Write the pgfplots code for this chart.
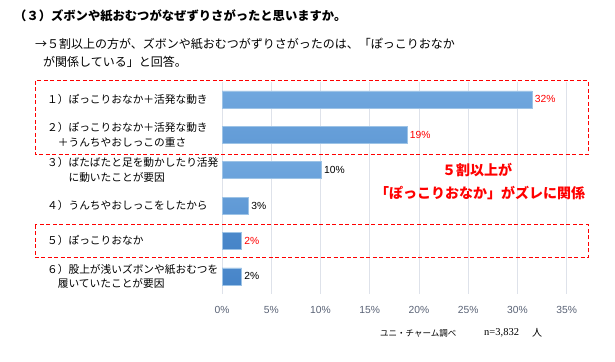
\documentclass[border=0pt]{standalone}
\usepackage{pgfplots}
\pgfplotsset{compat=1.18}
\usepackage{fontspec}
\setmainfont{Noto Sans CJK JP}
\newfontfamily\num{Liberation Sans}
\newfontfamily\ser{Liberation Serif}
\definecolor{barTop}{RGB}{112,167,222}
\definecolor{barBot}{RGB}{70,132,200}
\definecolor{barEdge}{RGB}{157,195,230}
\definecolor{tickgray}{RGB}{89,98,117}
\definecolor{gridc}{RGB}{222,226,234}
\definecolor{annred}{RGB}{255,0,0}
\begin{document}
\begin{tikzpicture}[x=1pt,y=1pt]
\useasboundingbox (0,0) rectangle (615,361);
\begin{axis}[
  at={(222pt,67pt)}, anchor=south west,
  scale only axis, width=344.7pt, height=212.4pt,
  xmin=0, xmax=35, ymin=-0.5, ymax=5.5, y dir=reverse,
  axis line style={draw=none},
  major tick length=0pt,
  xmajorgrids, major grid style={color=gridc, line width=0.8pt},
  xtick={0,5,10,15,20,25,30,35},
  xticklabels={0\%,5\%,10\%,15\%,20\%,25\%,30\%,35\%},
  xticklabel style={font=\num\fontsize{10.3}{11}\selectfont, text=tickgray, anchor=north, inner sep=0pt, yshift=-12.5pt},
  ytick={0,1,2,3,4,5},
  yticklabels={
    {１）ぽっこりおなか＋活発な動き},
    {２）ぽっこりおなか＋活発な動き\\\hspace*{1em}＋うんちやおしっこの重さ},
    {３）ばたばたと足を動かしたり活発\\\hspace*{2em}に動いたことが要因},
    {４）うんちやおしっこをしたから},
    {５）ぽっこりおなか},
    {６）股上が浅いズボンや紙おむつを\\\hspace*{1em}履いていたことが要因}},
  yticklabel style={font=\fontsize{10.7}{14.6}\selectfont, anchor=west, align=left, inner sep=0pt, xshift=-175pt},
  clip=false,
]
\addplot[xbar, bar width=17pt, bar shift=0pt, top color=barTop, bottom color=barBot, draw=barEdge,
  point meta=explicit symbolic, nodes near coords={\pgfplotspointmeta\%},
  nodes near coords style={text=annred, font=\num\fontsize{10.3}{11}\selectfont, anchor=west, inner sep=2.5pt}]
  coordinates {(31.5,0) [32] (18.8,1) [19] (2.0,4) [2]};
\addplot[xbar, bar width=17pt, bar shift=0pt, top color=barTop, bottom color=barBot, draw=barEdge,
  point meta=explicit symbolic, nodes near coords={\pgfplotspointmeta\%},
  nodes near coords style={text=black, font=\num\fontsize{10.3}{11}\selectfont, anchor=west, inner sep=2.5pt}]
  coordinates {(10.1,2) [10] (2.7,3) [3] (2.0,5) [2]};
\end{axis}
% red dashed boxes
\draw[annred, line width=1pt, dash pattern=on 4pt off 2.5pt] (35,280) rectangle (588,206);
\draw[annred, line width=1pt, dash pattern=on 4pt off 2.5pt] (35,136) rectangle (588,103);
% annotation
\node[text=annred, font=\bfseries\fontsize{14}{16}\selectfont, inner sep=0pt] at (477,191) {５割以上が};
\node[text=annred, font=\bfseries\fontsize{14}{16}\selectfont, inner sep=0pt] at (480,168) {「ぽっこりおなか」がズレに関係};
% titles
\node[anchor=west, inner sep=0pt, font=\bfseries\fontsize{12.3}{14}\selectfont] at (14,345) {（３）ズボンや紙おむつがなぜずりさがったと思いますか。};
\node[anchor=west, inner sep=0pt, font=\fontsize{12}{14}\selectfont] at (35,317) {→５割以上の方が、ズボンや紙おむつがずりさがったのは、「ぽっこりおなか};
\node[anchor=west, inner sep=0pt, font=\fontsize{12}{14}\selectfont] at (43,299) {が関係している」と回答。};
% footer
\node[anchor=west, inner sep=0pt, font=\fontsize{8.5}{10}\selectfont] at (380,28) {ユニ・チャーム調べ};
\node[anchor=west, inner sep=0pt, font=\ser\fontsize{10.5}{12}\selectfont] at (484,28) {n=3,832};
\node[anchor=west, inner sep=0pt, font=\fontsize{10}{12}\selectfont] at (532,28) {人};
\end{tikzpicture}
\end{document}
